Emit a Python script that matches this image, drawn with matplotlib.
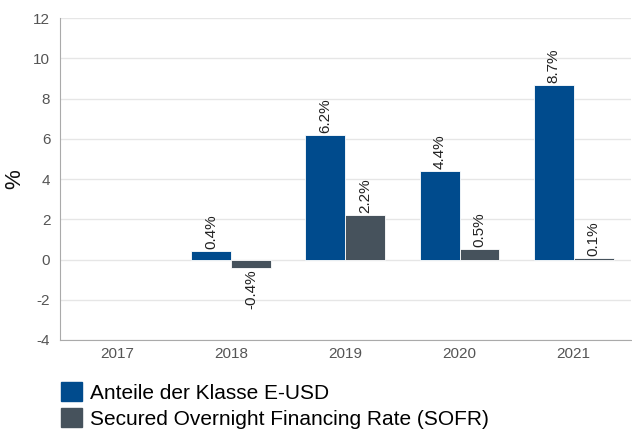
import numpy as np
import matplotlib.pyplot as plt
from matplotlib.patches import Patch

years = ['2017', '2018', '2019', '2020', '2021']
fund = [np.nan, 0.4, 6.2, 4.4, 8.7]
sofr = [np.nan, -0.4, 2.2, 0.5, 0.1]
series_names = ['Anteile der Klasse E-USD', 'Secured Overnight Financing Rate (SOFR)']
colors = ['#004b8d', '#46525c']

plt.rcParams['font.family'] = ['Liberation Sans', 'DejaVu Sans']
plt.rcParams['axes.unicode_minus'] = False

fig = plt.figure(figsize=(6.32, 4.32), dpi=100)
ax = fig.add_axes([0.095, 0.213, 0.903, 0.745])

x = np.arange(len(years))
w = 0.35
for vals, off, c in [(fund, -w / 2, colors[0]), (sofr, w / 2, colors[1])]:
    ax.bar(x + off, vals, width=w, color=c, edgecolor='white', linewidth=0.6, zorder=3)
    for xi, v in zip(x + off, vals):
        if np.isnan(v):
            continue
        if v >= 0:
            ax.text(xi, v + 0.1, f'{v:.1f}%', rotation=90, ha='center', va='bottom',
                    fontsize=11, color='#222222', zorder=4)
        else:
            ax.text(xi, v - 0.1, f'{v:.1f}%', rotation=90, ha='center', va='top',
                    fontsize=11, color='#222222', zorder=4)

ax.set_xlim(-0.5, len(years) - 0.5)
ax.set_ylim(-4, 12)
ax.set_yticks(range(-4, 13, 2))
ax.set_xticks(x)
ax.set_xticklabels(years)
ax.tick_params(length=0, labelsize=11, labelcolor='#555555')
ax.tick_params(axis='x', pad=5)
ax.tick_params(axis='y', pad=7)
ax.grid(axis='y', color='#e6e6e6', linewidth=1, zorder=0)
for s in ['top', 'right']:
    ax.spines[s].set_visible(False)
for s in ['left', 'bottom']:
    ax.spines[s].set_color('#aaaaaa')
ax.set_ylabel('%', fontsize=16, color='#111111')
ax.yaxis.set_label_coords(-0.061, 0.5)

handles = [Patch(color=c) for c in colors]
fig.legend(handles, series_names, loc='lower left', bbox_to_anchor=(0.092, 0.0),
           frameon=False, fontsize=15, handlelength=1.0, handleheight=1.0,
           handletextpad=0.4, labelspacing=0.28, borderpad=0.05, borderaxespad=0.1)

fig.savefig('out.png', dpi=100)
